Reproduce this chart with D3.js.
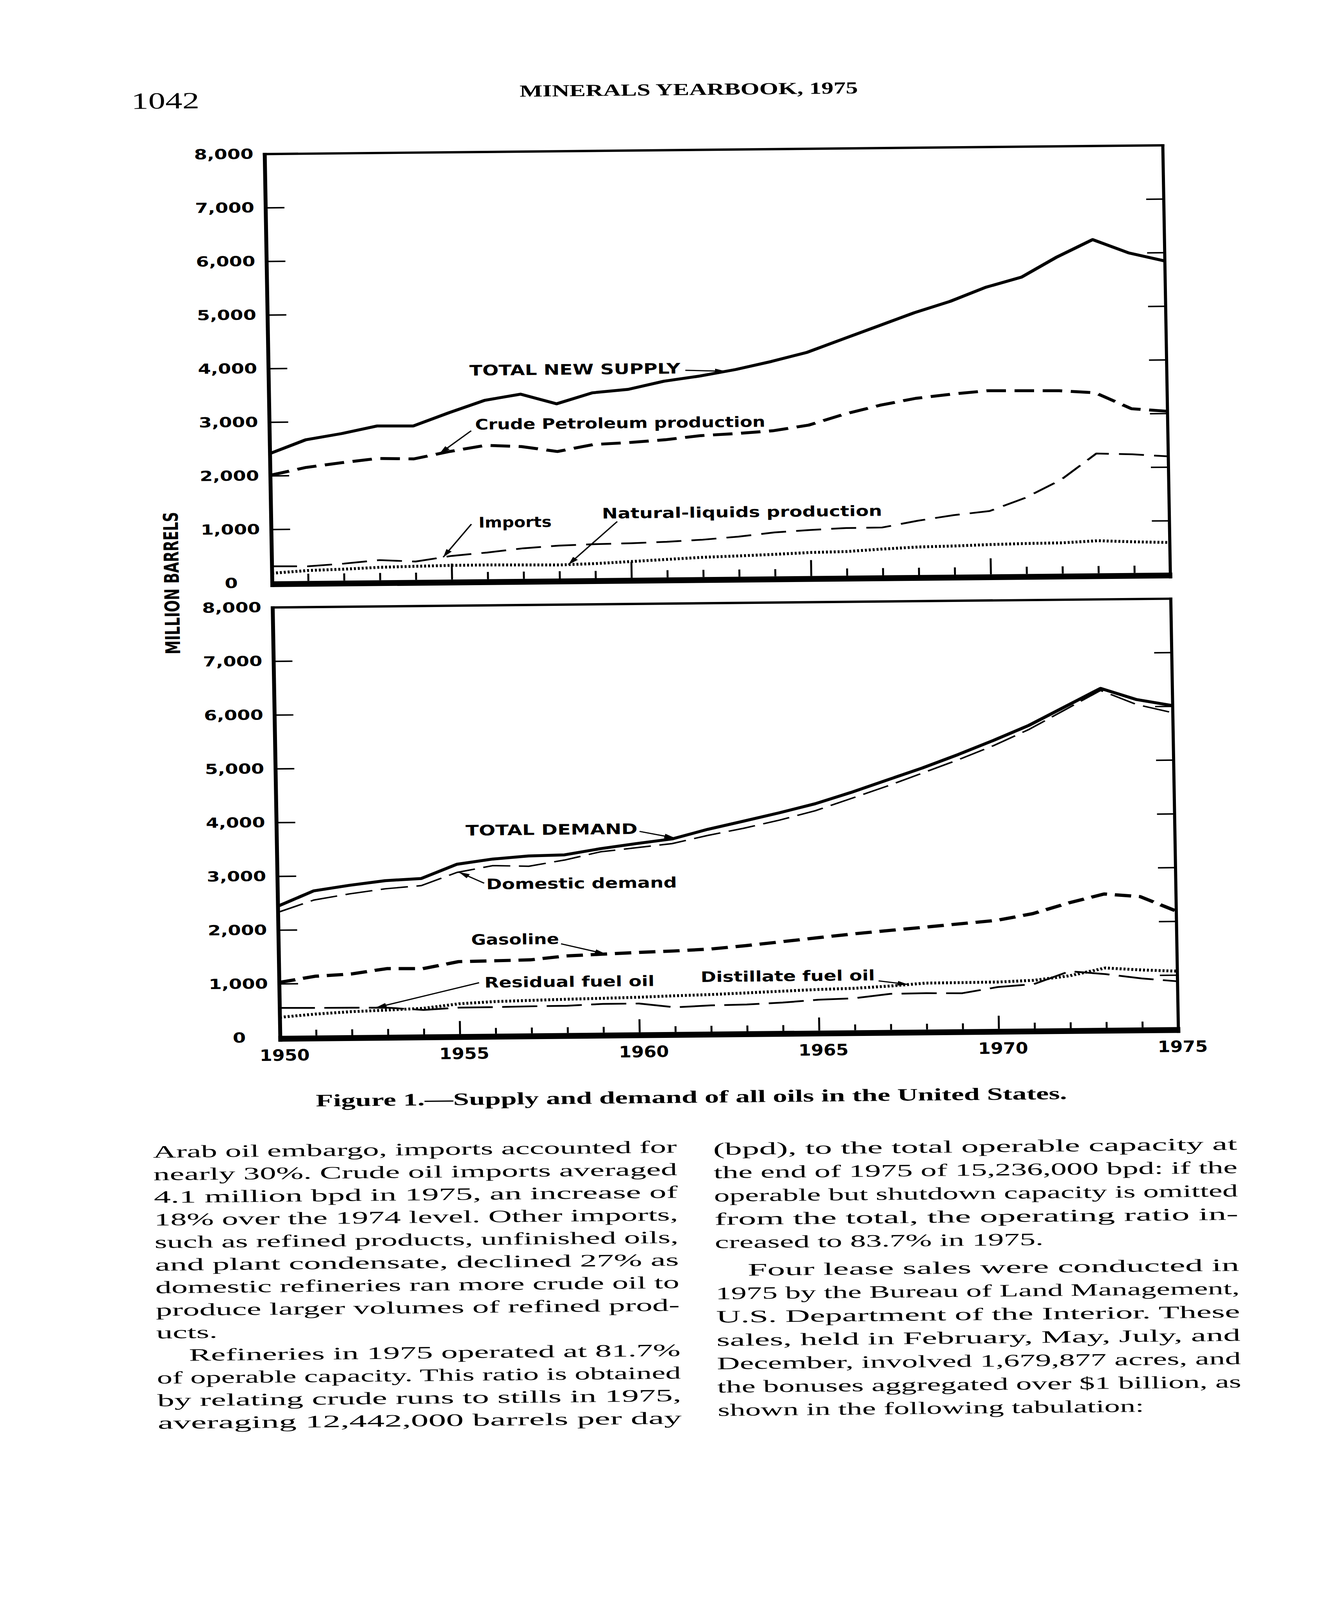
<!DOCTYPE html>
<html>
<head>
<meta charset="utf-8">
<title>Supply and demand of all oils in the United States</title>
<script src="https://cdn.jsdelivr.net/npm/d3@7"></script>
<style>
  html, body { margin: 0; padding: 0; background: #fff; overflow: hidden; }
  svg { display: block; }
</style>
</head>
<body>
<script>
// years along the bottom
var years = [1950, 1951, 1952, 1953, 1954, 1955, 1956, 1957, 1958, 1959, 1960, 1961, 1962,
             1963, 1964, 1965, 1966, 1967, 1968, 1969, 1970, 1971, 1972, 1973, 1974, 1975];

// upper panel, million barrels
var totalNewSupply  = [2415, 2665, 2774, 2910, 2903, 3143, 3368, 3477, 3290, 3489, 3547, 3692, 3782,
                       3897, 4041, 4205, 4446, 4684, 4923, 5128, 5385, 5567, 5938, 6255, 6000, 5843];
var crudeProduction = [2010, 2150, 2232, 2304, 2289, 2421, 2529, 2499, 2401, 2524, 2555, 2600, 2671,
                       2703, 2748, 2846, 3044, 3205, 3327, 3399, 3456, 3450, 3443, 3398, 3094, 3040];
var imports         = [312, 306, 349, 408, 375, 473, 530, 602, 646, 666, 677, 697, 730,
                       781, 852, 892, 921, 925, 1045, 1142, 1212, 1452, 1781, 2266, 2244, 2199];
var naturalLiquids  = [183, 227, 246, 274, 286, 297, 298, 292, 285, 304, 336, 369, 402,
                       421, 444, 472, 483, 523, 555, 567, 587, 600, 606, 639, 612, 593];

// lower panel
var totalDemand     = [2444, 2722, 2819, 2899, 2932, 3191, 3281, 3332, 3346, 3454, 3542, 3623, 3795,
                       3941, 4089, 4251, 4454, 4676, 4896, 5139, 5398, 5674, 6009, 6345, 6130, 6011];
var domesticDemand  = [2330, 2551, 2660, 2748, 2800, 3039, 3159, 3141, 3250, 3396, 3466, 3536, 3682,
                       3808, 3954, 4121, 4341, 4563, 4802, 5042, 5301, 5598, 5952, 6307, 6038, 5879];
var gasoline        = [1026, 1134, 1169, 1263, 1256, 1380, 1389, 1400, 1466, 1492, 1518, 1539, 1568,
                       1625, 1691, 1759, 1824, 1881, 1937, 1994, 2050, 2168, 2359, 2521, 2466, 2190];
var residualFuelOil = [551, 545, 542, 536, 487, 525, 528, 536, 540, 567, 568, 491, 520,
                       531, 560, 606, 627, 703, 708, 701, 810, 858, 1090, 1030, 944, 884];
var distillateFuelOil = [377, 431, 469, 492, 519, 596, 631, 646, 661, 672, 685, 706, 722,
                         746, 772, 797, 812, 848, 896, 899, 903, 928, 1006, 1145, 1101, 1073];

// axis ticks
var yTickValues = [0, 1000, 2000, 3000, 4000, 5000, 6000, 7000, 8000];
var innerTickValues = [1000, 2000, 3000, 4000, 5000, 6000, 7000];
var labelYears = [1950, 1955, 1960, 1965, 1970, 1975];
var majorYears = [1955, 1960, 1965, 1970];
var minorYears = years.filter(function(d){ return d % 5 !== 0; });

// page text
var leftColumn = [
  "Arab oil embargo, imports accounted for",
  "nearly 30%. Crude oil imports averaged",
  "4.1 million bpd in 1975, an increase of",
  "18% over the 1974 level. Other imports,",
  "such as refined products, unfinished oils,",
  "and plant condensate, declined 27% as",
  "domestic refineries ran more crude oil to",
  "produce larger volumes of refined prod-",
  "ucts.",
  "Refineries in 1975 operated at 81.7%",
  "of operable capacity. This ratio is obtained",
  "by relating crude runs to stills in 1975,",
  "averaging 12,442,000 barrels per day"
];
var rightColumn = [
  "(bpd), to the total operable capacity at",
  "the end of 1975 of 15,236,000 bpd: if the",
  "operable but shutdown capacity is omitted",
  "from the total, the operating ratio in-",
  "creased to 83.7% in 1975.",
  "Four lease sales were conducted in",
  "1975 by the Bureau of Land Management,",
  "U.S. Department of the Interior. These",
  "sales, held in February, May, July, and",
  "December, involved 1,679,877 acres, and",
  "the bonuses aggregated over $1 billion, as",
  "shown in the following tabulation:"
];

var W = 3407, H = 5505;
var ink = "#000";
var sansNum = "'DejaVu Sans', sans-serif";
var serif = "'Liberation Serif', 'DejaVu Serif', serif";

// fit the whole page into whatever the window really is
var vw = window.innerWidth || W, vh = window.innerHeight || H;

var svg = d3.select("body").append("svg")
    .attr("width", vw)
    .attr("height", vh)
    .attr("viewBox", "0 0 " + W + " " + H)
    .attr("preserveAspectRatio", "none")
    .style("background", "#fff");

// the scanned page sits slightly tilted
var page = svg.append("g").attr("transform", "rotate(-0.75,697,2006)");

svg.append("defs").append("marker")
    .attr("id", "head")
    .attr("viewBox", "-30 -10 32 20")
    .attr("refX", 0).attr("refY", 0)
    .attr("markerWidth", 32).attr("markerHeight", 20)
    .attr("markerUnits", "userSpaceOnUse")
    .attr("orient", "auto")
    .append("path")
    .attr("d", "M0,0L-28,-8L-28,8Z")
    .attr("fill", ink);

var x = d3.scaleLinear().domain([1950, 1975]).range([697, 2996]);

function valueAt(values, yr) {
    var i = Math.min(Math.floor(yr - years[0]), values.length - 2);
    var t = yr - years[i];
    return values[i] + (values[i + 1] - values[i]) * t;
}

var panels = [
  {
    y: d3.scaleLinear().domain([0, 8000]).range([2006, 530]),
    minorLen: 25, majorLen: 55, showYears: false,
    series: [
      {values: totalNewSupply, width: 10, dash: null},
      {values: crudeProduction, width: 10, dash: "50,22"},
      {values: imports, width: 6, dash: "64,26"},
      {values: naturalLiquids, width: 10, dash: "5,5"}
    ],
    notes: [
      {text: "TOTAL NEW SUPPLY", at: [1955.59, 3833], len: 540, from: [1961.6, 3892], tip: 1962.73, on: totalNewSupply},
      {text: "Crude Petroleum production", at: [1955.72, 2825], len: 743, from: [1955.61, 2803], tip: 1954.72, on: crudeProduction},
      {text: "Imports", at: [1955.77, 997], len: 187, from: [1955.57, 1062], tip: 1954.77, on: imports},
      {text: "Natural-liquids production", at: [1959.21, 1143], len: 717, from: [1959.63, 1084], tip: 1958.25, on: naturalLiquids}
    ]
  },
  {
    y: d3.scaleLinear().domain([0, 8000]).range([3570, 2090]),
    minorLen: 20, majorLen: 45, showYears: true,
    series: [
      {values: totalDemand, width: 10, dash: null},
      {values: domesticDemand, width: 5, dash: "70,22"},
      {values: gasoline, width: 11, dash: "42,20"},
      {values: residualFuelOil, width: 6, dash: "90,24"},
      {values: distillateFuelOil, width: 10, dash: "5,5"}
    ],
    notes: [
      {text: "TOTAL DEMAND", at: [1955.26, 3723], len: 440, from: [1960.1, 3769], tip: 1961.09, on: totalDemand},
      {text: "Domestic demand", at: [1955.81, 2720], len: 488, from: [1955.75, 2833], tip: 1955.05, on: domesticDemand},
      {text: "Gasoline", at: [1955.36, 1690], len: 225, from: [1957.86, 1693], tip: 1959.1, on: gasoline},
      {text: "Residual fuel oil", at: [1955.71, 892], len: 435, from: [1955.56, 984], tip: 1952.67, on: residualFuelOil},
      {text: "Distillate fuel oil", at: [1961.73, 957], len: 446, from: [1966.68, 946], tip: 1967.51, on: distillateFuelOil}
    ]
  }
];

panels.forEach(function(p) {
    var y = p.y;
    var g = page.append("g");
    var y0 = y(0), yTop = y(8000), xl = x(1950), xr = x(1975);

    var line = d3.line()
        .x(function(d, i){ return x(years[i]); })
        .y(function(d){ return y(d); });

    p.series.forEach(function(s) {
        g.append("path")
            .datum(s.values)
            .attr("d", line)
            .attr("fill", "none")
            .attr("stroke", ink)
            .attr("stroke-width", s.width)
            .attr("stroke-dasharray", s.dash)
            .attr("stroke-linejoin", "round");
    });

    // frame
    g.append("rect")
        .attr("x", xl - 5).attr("y", y0 - 6)
        .attr("width", xr - xl + 10).attr("height", 20)
        .attr("fill", ink);
    g.append("line").attr("x1", xl).attr("x2", xl).attr("y1", yTop - 4).attr("y2", y0 + 14)
        .attr("stroke", ink).attr("stroke-width", 10);
    g.append("line").attr("x1", xr).attr("x2", xr).attr("y1", yTop - 4).attr("y2", y0 + 14)
        .attr("stroke", ink).attr("stroke-width", 8);
    g.append("line").attr("x1", xl - 5).attr("x2", xr + 4).attr("y1", yTop).attr("y2", yTop)
        .attr("stroke", ink).attr("stroke-width", 8);

    // inner ticks on both sides
    var tl = g.append("g").attr("transform", "translate(" + xl + ",0)")
        .call(d3.axisRight(y).tickValues(innerTickValues).tickSize(48).tickFormat(""));
    var tr = g.append("g").attr("transform", "translate(" + xr + ",0)")
        .call(d3.axisLeft(y).tickValues(innerTickValues).tickSize(45).tickFormat(""));
    var tMinor = g.append("g").attr("transform", "translate(0," + (y0 - 6) + ")")
        .call(d3.axisTop(x).tickValues(minorYears).tickSize(p.minorLen).tickFormat(""));
    var tMajor = g.append("g").attr("transform", "translate(0," + (y0 - 6) + ")")
        .call(d3.axisTop(x).tickValues(majorYears).tickSize(p.majorLen).tickFormat(""));
    [tl, tr, tMinor, tMajor].forEach(function(a) {
        a.select(".domain").remove();
        a.selectAll("line").attr("stroke", ink).attr("stroke-width", 5);
    });

    // value labels
    var yl = g.append("g").attr("transform", "translate(" + xl + ",0)")
        .call(d3.axisLeft(y).tickValues(yTickValues).tickSize(0).tickFormat(d3.format(",")));
    yl.select(".domain").remove();
    yl.attr("font-family", sansNum).attr("font-size", 48).attr("font-weight", "bold");
    yl.selectAll("text").attr("x", -105).attr("text-anchor", "middle").attr("fill", ink);

    if (p.showYears) {
        var xa = g.append("g").attr("transform", "translate(0," + y0 + ")")
            .call(d3.axisBottom(x).tickValues(labelYears).tickSize(0).tickFormat(d3.format("d")));
        xa.select(".domain").remove();
        xa.attr("font-family", sansNum).attr("font-size", 54).attr("font-weight", "bold");
        xa.selectAll("text")
            .attr("y", 60).attr("dy", "0.365em").attr("dx", 10)
            .attr("textLength", 128).attr("lengthAdjust", "spacingAndGlyphs")
            .attr("fill", ink);
    }

    // callouts
    p.notes.forEach(function(n) {
        g.append("text")
            .attr("x", x(n.at[0])).attr("y", y(n.at[1]))
            .attr("font-family", sansNum).attr("font-weight", "bold").attr("font-size", 50)
            .attr("textLength", n.len).attr("lengthAdjust", "spacingAndGlyphs")
            .attr("fill", ink)
            .text(n.text);
        g.append("line")
            .attr("x1", x(n.from[0])).attr("y1", y(n.from[1]))
            .attr("x2", x(n.tip)).attr("y2", y(valueAt(n.on, n.tip)))
            .attr("stroke", ink).attr("stroke-width", 4)
            .attr("marker-end", "url(#head)");
    });
});

// axis title spanning both panels
page.append("text")
    .attr("transform", "translate(458,2003) rotate(-90)")
    .attr("text-anchor", "middle")
    .attr("font-family", sansNum).attr("font-weight", "bold").attr("font-size", 52)
    .attr("textLength", 490).attr("lengthAdjust", "spacingAndGlyphs")
    .attr("fill", ink)
    .text("MILLION BARRELS");

// running head
page.append("text")
    .attr("x", 358).attr("y", 370)
    .attr("font-family", serif).attr("font-size", 80)
    .attr("textLength", 174).attr("lengthAdjust", "spacingAndGlyphs")
    .attr("fill", ink).text("1042");
page.append("text")
    .attr("x", 1352).attr("y", 341)
    .attr("font-family", serif).attr("font-weight", "bold").attr("font-size", 58)
    .attr("textLength", 866).attr("lengthAdjust", "spacingAndGlyphs")
    .attr("fill", ink).text("MINERALS YEARBOOK, 1975");

// caption
page.append("text")
    .attr("x", 785).attr("y", 3808)
    .attr("font-family", serif).attr("font-weight", "bold").attr("font-size", 60)
    .attr("textLength", 1923).attr("lengthAdjust", "spacingAndGlyphs")
    .attr("fill", ink).text("Figure 1.\u2014Supply and demand of all oils in the United States.");

// body text, two justified columns
var colWidth = 1341, indent = 83;
var leftSpecial = {8: 157, 9: colWidth - indent};
leftColumn.forEach(function(t, i) {
    var dx = i === 9 ? indent : 0;
    page.append("text")
        .attr("x", 366 + dx).attr("y", 3979 + i * 77.75)
        .attr("font-family", serif).attr("font-size", 60)
        .attr("textLength", leftSpecial[i] || colWidth)
        .attr("lengthAdjust", "spacingAndGlyphs")
        .attr("fill", ink).text(t);
});
var rightSpecial = {4: 841, 5: colWidth - indent, 11: 1091};
rightColumn.forEach(function(t, i) {
    var dx = i === 5 ? indent : 0;
    var yy = 3988 + i * 80.3 + (i >= 5 ? 15 : 0);
    page.append("text")
        .attr("x", 1800 + dx).attr("y", yy)
        .attr("font-family", serif).attr("font-size", 60)
        .attr("textLength", rightSpecial[i] || colWidth)
        .attr("lengthAdjust", "spacingAndGlyphs")
        .attr("fill", ink).text(t);
});
</script>
</body>
</html>
